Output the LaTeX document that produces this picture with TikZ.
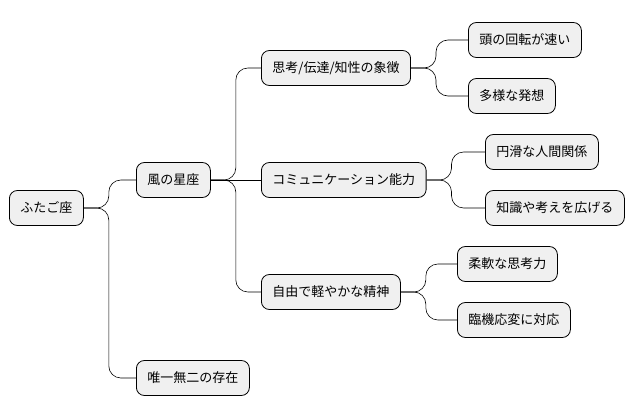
\documentclass[tikz,border=0pt]{standalone}
\usepackage{fontspec}
\setmainfont{Noto Sans CJK JP}
\tikzset{
  topic/.style = {draw=black, line width=0.8pt, fill=black!6, rounded corners=8pt,
                  minimum height=35pt, inner xsep=11pt, anchor=west,
                  font=\fontsize{13pt}{15pt}\selectfont},
  link/.style  = {draw=black, line width=0.6pt, rounded corners=12pt}
}
\begin{document}
\begin{tikzpicture}[x=1pt, y=-1pt]
                   \useasboundingbox (0,0) rectangle (642,415);

                   \node[topic] (gemini) at (9,208) {ふたご座};
                   \node[topic] (air)    at (136,180) {風の星座};
                   \node[topic] (unique) at (136,378) {唯一無二の存在};

                   \node[topic] (symbol) at (261,68)  {思考/伝達/知性の象徴};
                   \node[topic] (comm)   at (261,180) {コミュニケーション能力};
                   \node[topic] (free)   at (261,292) {自由で軽やかな精神};

                   \node[topic] (quick)  at (468,40)  {頭の回転が速い};
                   \node[topic] (ideas)  at (468,96)  {多様な発想};
                   \node[topic] (smooth) at (485,152) {円滑な人間関係};
                   \node[topic] (widen)  at (485,208) {知識や考えを広げる};
                   \node[topic] (flex)   at (457,264) {柔軟な思考力};
                   \node[topic] (adapt)  at (457,320) {臨機応変に対応};

                   \draw[link] (gemini.east) -- ++(25,0) |- (air.west);
                   \draw[link] (gemini.east) -- ++(25,0) |- (unique.west);

                   \draw[link] (air.east) -- ++(25,0) |- (symbol.west);
                   \draw[link] (air.east) -- (comm.west);
                   \draw[link] (air.east) -- ++(25,0) |- (free.west);

                   \draw[link] (symbol.east) -- ++(25,0) |- (quick.west);
                   \draw[link] (symbol.east) -- ++(25,0) |- (ideas.west);
                   \draw[link] (comm.east) -- ++(25,0) |- (smooth.west);
                   \draw[link] (comm.east) -- ++(25,0) |- (widen.west);
                   \draw[link] (free.east) -- ++(25,0) |- (flex.west);
                   \draw[link] (free.east) -- ++(25,0) |- (adapt.west);
\end{tikzpicture}
\end{document}
